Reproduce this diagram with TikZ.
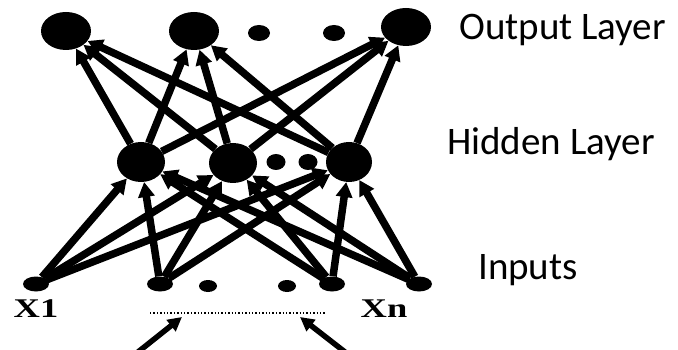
\documentclass[tikz,border=0pt]{standalone}
\usepackage{fontspec}
\setmainfont{Liberation Serif}
\newfontfamily\lblfont{Carlito}
\usetikzlibrary{arrows.meta,shapes.geometric}
\begin{document}
\begin{tikzpicture}[x=1pt,y=-1pt,
  bignode/.style={ellipse,fill=black,minimum width=50pt,minimum height=38pt,inner sep=0pt},
  hidnode/.style={ellipse,fill=black,minimum width=48pt,minimum height=40pt,inner sep=0pt},
  dotnode/.style={ellipse,fill=black,minimum width=22pt,minimum height=16pt,inner sep=0pt},
  inpnode/.style={ellipse,fill=black,minimum width=26pt,minimum height=15pt,inner sep=0pt},
  link/.style={line width=7.5pt,-{Triangle[length=15pt,width=16pt]}},
  layerlbl/.style={font=\lblfont\fontsize{39}{39}\selectfont,anchor=west,inner sep=0pt},
  xlbl/.style={font=\bfseries\fontsize{27}{27}\selectfont,inner sep=0pt}]
\useasboundingbox (0,0) rectangle (678,350);
% output layer
\node[bignode] (o1) at (66,31) {};
\node[bignode] (o2) at (194,31) {};
\node[dotnode] (od1) at (259,33) {};
\node[dotnode] (od2) at (334,33) {};
\node[bignode] (o3) at (406,27) {};
% hidden layer
\node[hidnode] (h1) at (141,162) {};
\node[hidnode] (h2) at (233,163) {};
\node[dotnode,minimum width=19pt,minimum height=16pt] (hd1) at (276,162) {};
\node[dotnode,minimum width=19pt,minimum height=16pt] (hd2) at (308,162) {};
\node[hidnode,minimum width=46pt] (h3) at (349,162) {};
% inputs
\node[inpnode] (i1) at (36,284) {};
\node[inpnode] (i2) at (160,284) {};
\node[dotnode,minimum width=18pt,minimum height=12pt] (id1) at (208,286) {};
\node[dotnode,minimum width=18pt,minimum height=12pt] (id2) at (287,286) {};
\node[inpnode] (i3) at (332,284) {};
\node[inpnode] (i4) at (419,284) {};
% connections input -> hidden
\foreach \i in {i1,i2,i3,i4}
  \foreach \h in {h1,h2,h3}
    \draw[link] (\i) -- (\h);
% connections hidden -> output
\foreach \h in {h1,h2,h3}
  \foreach \o in {o1,o2,o3}
    \draw[link] (\h) -- (\o);
% input labels
\node[xlbl] (x1) at (36,309) {\scalebox{1.35}[1]{X1}};
\node[xlbl] (xn) at (384,309) {\scalebox{1.35}[1]{Xn}};
% dotted line and arrows
\coordinate (dl) at (150,313);
\coordinate (dr) at (325,313);
\draw[line width=1.4pt,dotted] (dl) -- (dr);
\coordinate (al0) at (138,352);
\coordinate (al1) at (182,317);
\coordinate (ar0) at (345,352);
\coordinate (ar1) at (300,317);
\draw[line width=5.5pt,-{Triangle[length=14pt,width=14pt]}] (al0) -- (al1);
\draw[line width=5.5pt,-{Triangle[length=14pt,width=14pt]}] (ar0) -- (ar1);
% layer labels
\node[layerlbl] (lo) at (459,30) {Output Layer};
\node[layerlbl] (lh) at (447,144) {Hidden Layer};
\node[layerlbl] (li) at (478,270) {Inputs};
\end{tikzpicture}
\end{document}
